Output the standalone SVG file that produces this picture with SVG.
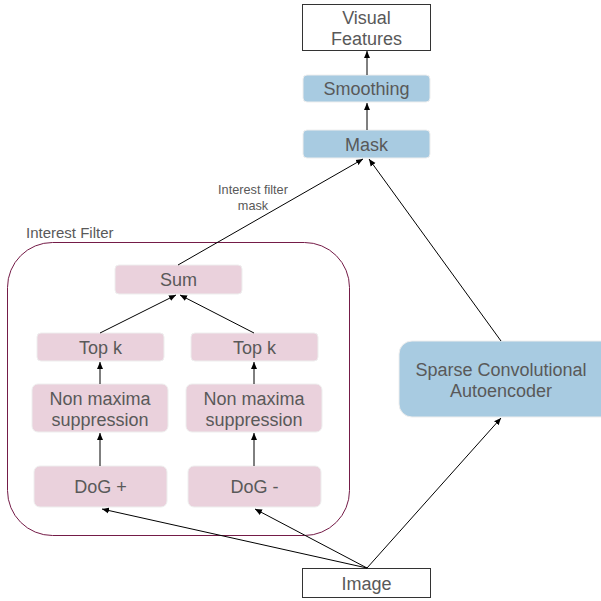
<svg xmlns="http://www.w3.org/2000/svg" width="601" height="601" viewBox="0 0 601 601">
<defs>
<marker id="ah" markerWidth="8" markerHeight="8" refX="7" refY="4" orient="auto" markerUnits="userSpaceOnUse">
<path d="M0,1 L7,4 L0,7 Z" fill="#000"/>
</marker>
<style>
.t{font-family:"Liberation Sans",Arial,sans-serif;fill:#595959;text-anchor:middle}
.pink{fill:#ead1dc;stroke:#eee;stroke-width:1}
.blue{fill:#a8cbe1;stroke:#eee;stroke-width:1}
.white{fill:#fff;stroke:#333;stroke-width:1}
.c{stroke:#000;stroke-width:1;fill:none;marker-end:url(#ah)}
</style>
</defs>
<rect width="601" height="601" fill="#fff"/>
<g id="interest-filter">
<rect x="7.5" y="242.5" width="342" height="293" rx="45" ry="45" fill="none" stroke="#741b47" stroke-width="1"/>
<text class="t" x="26" y="238" font-size="15" style="text-anchor:start">Interest Filter</text>
</g>
<g id="visual-features">
<rect class="white" x="302.5" y="4.5" width="128" height="46"/>
<text class="t" x="366.5" y="24" font-size="18">Visual</text>
<text class="t" x="366.5" y="45" font-size="18">Features</text>
</g>
<g id="smoothing">
<rect class="blue" x="303" y="75" width="127" height="27" rx="4"/>
<text class="t" x="366.5" y="95" font-size="18">Smoothing</text>
</g>
<g id="mask">
<rect class="blue" x="303" y="130" width="127" height="28" rx="4"/>
<text class="t" x="366.5" y="150.5" font-size="18">Mask</text>
</g>
<g id="sum">
<rect class="pink" x="115" y="265" width="127" height="29" rx="4"/>
<text class="t" x="178.5" y="285.5" font-size="18">Sum</text>
</g>
<g id="topk-left">
<rect class="pink" x="37" y="333" width="127" height="28" rx="4"/>
<text class="t" x="100.5" y="353.5" font-size="18">Top k</text>
</g>
<g id="topk-right">
<rect class="pink" x="191" y="333" width="127" height="28" rx="4"/>
<text class="t" x="254.5" y="353.5" font-size="18">Top k</text>
</g>
<g id="nms-left">
<rect class="pink" x="32" y="384" width="136" height="48" rx="6"/>
<text class="t" x="100" y="405" font-size="18">Non maxima</text>
<text class="t" x="100" y="426" font-size="18">suppression</text>
</g>
<g id="nms-right">
<rect class="pink" x="186" y="384" width="136" height="48" rx="6"/>
<text class="t" x="254" y="405" font-size="18">Non maxima</text>
<text class="t" x="254" y="426" font-size="18">suppression</text>
</g>
<g id="dog-plus">
<rect class="pink" x="34" y="466" width="133" height="41" rx="6"/>
<text class="t" x="100.5" y="493" font-size="18">DoG +</text>
</g>
<g id="dog-minus">
<rect class="pink" x="188" y="466" width="133" height="41" rx="6"/>
<text class="t" x="254.5" y="493" font-size="18">DoG -</text>
</g>
<g id="sca">
<rect class="blue" x="399" y="341" width="215" height="76" rx="13"/>
<text class="t" x="501" y="375.5" font-size="18">Sparse Convolutional</text>
<text class="t" x="501" y="397" font-size="18">Autoencoder</text>
</g>
<g id="image">
<rect class="white" x="302.5" y="568.5" width="128" height="29"/>
<text class="t" x="366.5" y="589.5" font-size="18">Image</text>
</g>
<g id="connectors">
<line class="c" x1="367" y1="75" x2="367" y2="51"/>
<line class="c" x1="367" y1="130" x2="367" y2="103"/>
<line class="c" x1="178" y1="265" x2="363" y2="159"/>
<line class="c" x1="501" y1="341" x2="369" y2="159"/>
<line class="c" x1="100" y1="333" x2="176" y2="295"/>
<line class="c" x1="254" y1="333" x2="180" y2="295"/>
<line class="c" x1="100" y1="384" x2="100" y2="362"/>
<line class="c" x1="254" y1="384" x2="254" y2="362"/>
<line class="c" x1="100" y1="466" x2="100" y2="433"/>
<line class="c" x1="254" y1="466" x2="254" y2="433"/>
<line class="c" x1="367" y1="568" x2="102" y2="509"/>
<line class="c" x1="367" y1="568" x2="255" y2="509"/>
<line class="c" x1="367" y1="568" x2="501" y2="418"/>
<text class="t" x="253" y="194" font-size="12.7">Interest filter</text>
<text class="t" x="253" y="210" font-size="12.7">mask</text>
</g>
</svg>
